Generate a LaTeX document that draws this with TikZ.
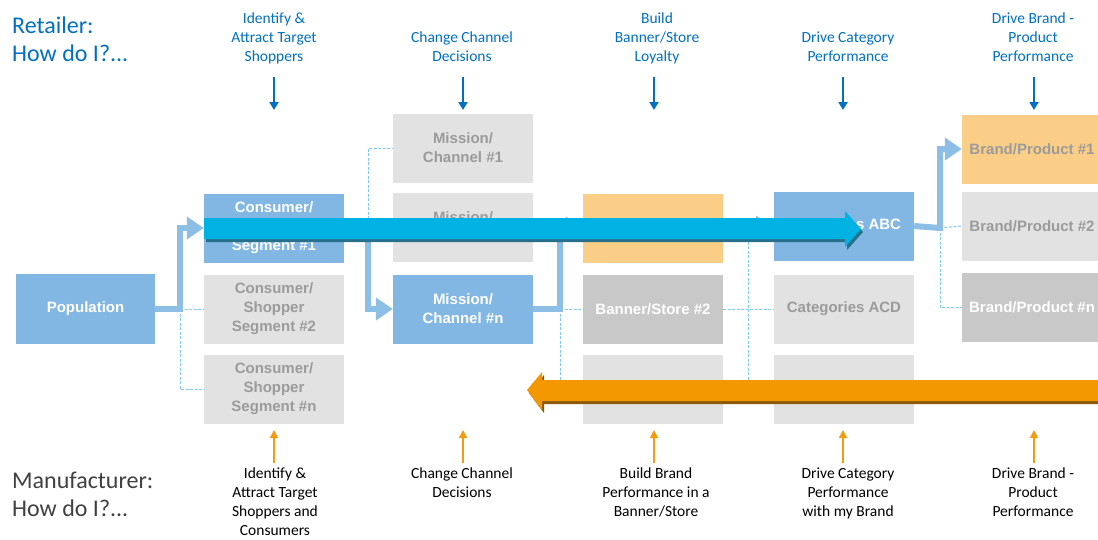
\documentclass[tikz,border=0pt]{standalone}
\usepackage{fontspec}
\setmainfont{Carlito}
\newfontfamily\arialf{Liberation Sans}
\usetikzlibrary{arrows.meta}
\definecolor{retblue}{RGB}{0,112,192}
\definecolor{manorange}{RGB}{243,156,18}
\definecolor{mangray}{RGB}{64,64,64}
\definecolor{bboxc}{RGB}{130,183,228}
\definecolor{gboxc}{RGB}{226,226,226}
\definecolor{dboxc}{RGB}{200,200,200}
\definecolor{oboxc}{RGB}{251,206,135}
\definecolor{gtext}{RGB}{155,155,155}
\definecolor{thinc}{RGB}{125,205,240}
\definecolor{hlc}{RGB}{140,190,230}
\definecolor{bigblue}{RGB}{0,178,227}
\definecolor{bigblueshadow}{RGB}{38,112,140}
\definecolor{bigorange}{RGB}{243,152,0}
\definecolor{bigorangeshadow}{RGB}{140,90,10}
\begin{document}
\begin{tikzpicture}[x=1pt,y=-1pt,
  boxbase/.style={minimum width=140pt, minimum height=69pt, inner sep=0pt, align=center,
    font=\arialf\bfseries\fontsize{15}{19}\selectfont},
  bluebox/.style={boxbase, fill=bboxc, text=white},
  graybox/.style={boxbase, fill=gboxc, text=gtext},
  darkbox/.style={boxbase, fill=dboxc, text=white},
  orangebox/.style={boxbase, fill=oboxc, text=gtext},
  thinconn/.style={draw=thinc, line width=1pt, dash pattern=on 3pt off 1.5pt},
  hlconn/.style={draw=hlc, line width=6pt},
  hlarrow/.style={hlconn, -{Triangle[width=22pt,length=17pt]}},
  toplabel/.style={anchor=south, inner sep=0pt, align=center, text=retblue,
    font=\fontsize{15.5}{19}\selectfont},
  botlabel/.style={anchor=north, inner sep=0pt, align=center, text=black,
    font=\fontsize{15.5}{19}\selectfont},
  toparrow/.style={draw=retblue, line width=2pt, -{Triangle[width=9pt,length=8pt]}},
  botarrow/.style={draw=manorange, line width=1.6pt, -{Triangle[width=8pt,length=8pt]}},
  headtext/.style={anchor=base west, inner sep=0pt, font=\fontsize{24}{28}\selectfont}
]
\useasboundingbox (0,0) rectangle (1098,539);

% headings
\node[headtext, text=retblue] (ret1) at (12,33) {Retailer:};
\node[headtext, text=retblue] (ret2) at (12,61) {How do I?...};
\node[headtext, text=mangray] (man1) at (12,488) {Manufacturer:};
\node[headtext, text=mangray] (man2) at (12,516) {How do I?...};

% top labels
\node[toplabel] (tl1) at (274,67.7) {Identify \&\\Attract Target\\Shoppers\strut};
\node[toplabel] (tl2) at (462,67.7) {Change Channel\\Decisions\strut};
\node[toplabel] (tl3) at (657,67.7) {Build\\Banner/Store\\Loyalty\strut};
\node[toplabel] (tl4) at (848,67.7) {Drive Category\\Performance\strut};
\node[toplabel] (tl5) at (1033,67.7) {Drive Brand -\\Product\\Performance\strut};

% bottom labels
\node[botlabel] (bl1) at (275,464.7) {\strut Identify \&\\Attract Target\\Shoppers and\\Consumers};
\node[botlabel] (bl2) at (462,464.7) {\strut Change Channel\\Decisions};
\node[botlabel] (bl3) at (656,464.7) {\strut Build Brand\\Performance in a\\Banner/Store};
\node[botlabel] (bl4) at (848,464.7) {\strut Drive Category\\Performance\\with my Brand};
\node[botlabel] (bl5) at (1033,464.7) {\strut Drive Brand -\\Product\\Performance};

% top and bottom arrows
\foreach \i/\x in {1/274,2/463,3/654,4/843,5/1034}{
  \coordinate (ts\i) at (\x,77);
  \coordinate (te\i) at (\x,110);
  \draw[toparrow] (ts\i) -- (te\i);
  \coordinate (bs\i) at (\x,463);
  \coordinate (be\i) at (\x,430);
  \draw[botarrow] (bs\i) -- (be\i);
}

% junction coordinates
\coordinate (j1) at (180,309);
\coordinate (j2) at (368,228);
\coordinate (j3) at (560,309);
\coordinate (j4) at (748,228);
\coordinate (j5) at (940,228);

% boxes
\node[bluebox, minimum width=139pt, minimum height=70pt] (pop) at (85.5,309) {Population};

\node[bluebox] (c1a) at (274,228) {Consumer/\\Shopper\\Segment \#1};
\node[graybox] (c1b) at (274,309) {Consumer/\\Shopper\\Segment \#2};
\node[graybox] (c1c) at (274,389) {Consumer/\\Shopper\\Segment \#n};

\node[graybox] (c2a) at (463,148) {Mission/\\Channel \#1};
\node[graybox] (c2b) at (463,227) {Mission/\\Channel \#2};
\node[bluebox] (c2c) at (463,309) {Mission/\\Channel \#n};

\node[orangebox] (c3a) at (653,228) {};
\node[darkbox] (c3b) at (653,309) {Banner/Store \#2};
\node[graybox] (c3c) at (653,389) {};

\node[bluebox] (c4a) at (844,226) {Categories ABC};
\node[graybox] (c4b) at (844,309) {Categories ACD};
\node[graybox] (c4c) at (844,389) {};

\node[orangebox] (c5a) at (1032,149) {Brand/Product \#1};
\node[graybox] (c5b) at (1032,226) {Brand/Product \#2};
\node[darkbox] (c5c) at (1032,307) {Brand/Product \#n};

% thin connectors
\draw[thinconn] (j1) -- (c1b.west);
\draw[thinconn] (j1) |- (c1c.west);
\draw[thinconn] (j2) |- (c2a.west);
\draw[thinconn] (j2) -- (c2b.west);
\draw[thinconn] (j3) -- (c3b.west);
\draw[thinconn] (j3) |- (c3c.west);
\draw[thinconn] (c3b.east) -- (c4b.west);
\draw[thinconn] (j4) |- (c4c.west);
\draw[thinconn] (j5) -- (c5b.west);
\draw[thinconn] (j5) |- (c5c.west);

% highlighted connectors
\draw[hlarrow] (pop.east) -- (j1) |- (c1a.west);
\draw[hlarrow] (c1a.east) -- (j2) |- (c2c.west);
\draw[hlarrow] (c2c.east) -- (j3) |- (c3a.west);
\draw[hlarrow] (c3a.east) -- (j4) -- (c4a.west);
\draw[hlarrow] (c4a.east) -- (j5) |- (c5a.west);

% big blue arrow (retailer flow)
\fill[bigblueshadow] (206,221) -- (847,221) -- (847,214) -- (863,232) -- (847,250) -- (847,242) -- (206,242) -- cycle;
\fill[bigblue] (204,218) -- (845,218) -- (845,211) -- (861,229) -- (845,247) -- (845,239) -- (204,239) -- cycle;

% big orange arrow (manufacturer flow)
\fill[bigorangeshadow] (1100,383) -- (544,383) -- (544,375) -- (529,393) -- (544,413) -- (544,404) -- (1100,404) -- cycle;
\fill[bigorange] (1100,380) -- (542,380) -- (542,372) -- (527,390) -- (542,410) -- (542,401) -- (1100,401) -- cycle;
\end{tikzpicture}
\end{document}
